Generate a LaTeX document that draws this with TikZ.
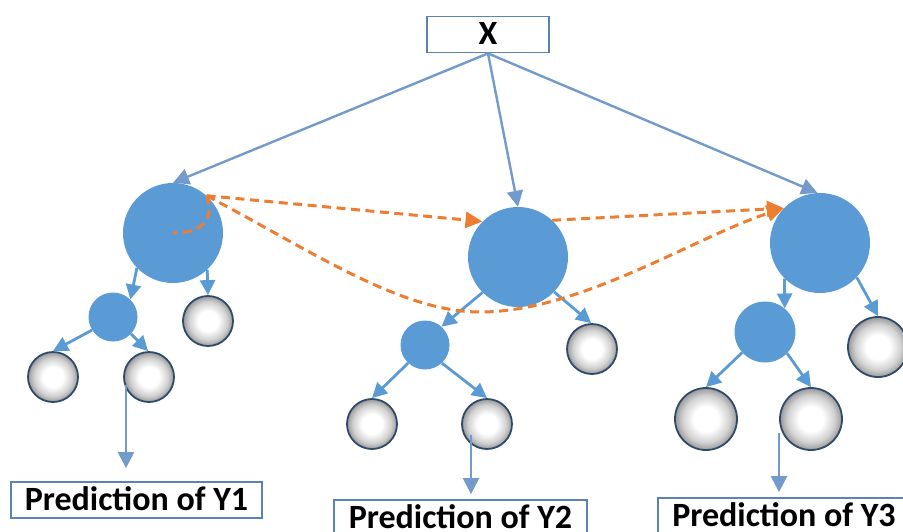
\documentclass[tikz,border=0pt]{standalone}
\usepackage{fontspec}
\setmainfont{Carlito}
\usetikzlibrary{arrows.meta}
\definecolor{nodeblue}{HTML}{5B9BD5}
\definecolor{xblue}{HTML}{729ACB}
\definecolor{boxblue}{HTML}{5A84B6}
\definecolor{leafedge}{HTML}{2E4B6C}
\definecolor{orangec}{HTML}{ED7D31}
\pgfdeclareradialshading{leafshade}{\pgfpointorigin}{color(0bp)=(white); color(10bp)=(white); color(19bp)=(black!18); color(25bp)=(black!40); color(50bp)=(black!40)}
\begin{document}
\begin{tikzpicture}[x=1pt,y=-1pt,
  bignode/.style={circle, fill=nodeblue, minimum size=100pt, inner sep=0pt},
  midnode/.style={circle, fill=nodeblue, minimum size=#1, inner sep=0pt},
  leaf/.style={circle, shade, shading=leafshade, draw=leafedge, line width=1.8pt, minimum size=#1, inner sep=0pt},
  textbox/.style={draw=boxblue, line width=1.8pt, fill=white, font=\bfseries\fontsize{34}{40}\selectfont, inner sep=0pt, minimum height=36pt, text height=20pt, text depth=0pt},
  tedge/.style={draw=nodeblue, line width=2.8pt, -{Triangle[length=15pt,width=15pt]}},
  xedge/.style={draw=xblue, line width=2.4pt, -{Triangle[length=16pt,width=16pt]}},
  oedge/.style={draw=orangec, line width=3pt, dash pattern=on 9pt off 5.5pt},
  oarrow/.style={oedge, -{Triangle[length=17pt,width=16pt]}}]
\useasboundingbox (0,0) rectangle (903,531);
\clip (0,0) rectangle (903,531);

% top box
\node[textbox, minimum width=122pt] (X) at (488,34.5) {X};

% tree 1
\node[bignode] (r1) at (173,233) {};
\node[midnode=49pt] (c1) at (113,317) {};
\node[leaf=50pt] (g1) at (208,321) {};
\node[leaf=50pt] (l1a) at (53,377) {};
\node[leaf=50pt] (l1b) at (149,377) {};

% tree 2
\node[bignode] (r2) at (518,257) {};
\node[midnode=49pt] (c2) at (425,345) {};
\node[leaf=50pt] (g2) at (592,349) {};
\node[leaf=50pt] (l2a) at (372,424) {};
\node[leaf=50pt] (l2b) at (487,424) {};

% tree 3
\node[bignode] (r3) at (820,243) {};
\node[midnode=61pt] (c3) at (765,332) {};
\node[leaf=60pt] (g3) at (878,347) {};
\node[leaf=62pt] (l3a) at (706,419) {};
\node[leaf=62pt] (l3b) at (811,419) {};

% prediction boxes
\node[textbox, minimum width=251pt] (p1) at (136.5,500) {Prediction of Y1};
\node[textbox, minimum width=253pt] (p2) at (460.5,518) {Prediction of Y2};
\node[textbox, minimum width=252pt] (p3) at (784,516) {Prediction of Y3};

% X arrows
\draw[xedge] (X.south) -- (r1.90);
\draw[xedge] (X.south) -- (r2.90);
\draw[xedge] (X.south) -- (r3.93);

% tree 1 edges
\draw[tedge] (r1.224) -- (c1.45);
\draw[tedge] (r1.313) -- (g1.90);
\draw[tedge] (c1.212) -- (l1a.90);
\draw[tedge] (c1.317) -- (l1b.92);

% tree 2 edges
\draw[tedge] (r2.225) -- (c2.48);
\draw[tedge] (r2.316) -- (g2.92);
\draw[tedge] (c2.227) -- (l2a.90);
\draw[tedge] (c2.313) -- (l2b.90);

% tree 3 edges
\draw[tedge] (r3.225) -- (c3.50);
\draw[tedge] (r3.317) -- (g3.90);
\draw[tedge] (c3.222) -- (l3a.90);
\draw[tedge] (c3.316) -- (l3b.90);

% prediction arrows
\coordinate (s1) at (126,385);
\coordinate (s2) at (471,435);
\coordinate (s3) at (779,433);
\draw[xedge, shorten >=13pt] (s1) -- (s1 |- p1.north);
\draw[xedge, shorten >=5pt] (s2) -- (s2 |- p2.north);
\draw[xedge, shorten >=5pt] (s3) -- (s3 |- p3.north);

% orange dashed connectors
\coordinate (obot) at (480,312);
\draw[oedge] (r1.48) .. controls (212,210) and (212,233) .. (r1.center);
\draw[oarrow] (r1.48) -- (r2.135);
\draw[oarrow] (r2.47) -- (r3.136);
\draw[oarrow] (r1.48) .. controls (310,250) and (400,312) .. (obot) .. controls (580,312) and (695,237) .. (r3.136);
\end{tikzpicture}
\end{document}
